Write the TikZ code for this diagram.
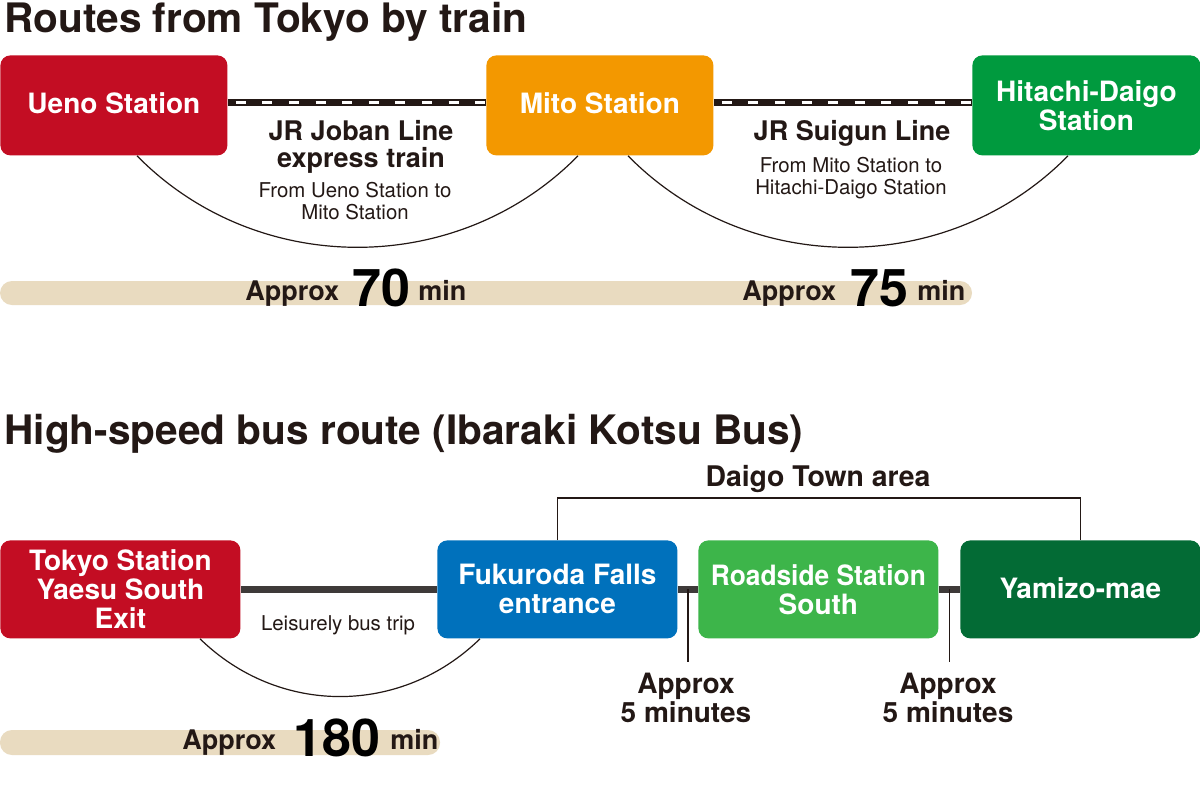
\documentclass[tikz,border=0pt]{standalone}
\usepackage{fontspec}
\setmainfont{TeX Gyre Heros}
\usetikzlibrary{calc}
\definecolor{ink}{HTML}{231815}
\definecolor{cred}{HTML}{C30D23}
\definecolor{corange}{HTML}{F39800}
\definecolor{cgreen}{HTML}{009A3E}
\definecolor{cblue}{HTML}{0071BC}
\definecolor{clight}{HTML}{3DB54A}
\definecolor{cdark}{HTML}{036B35}
\definecolor{cbeige}{HTML}{E9DBC0}
\definecolor{cbus}{HTML}{3E3A39}
\tikzset{
  stationbox/.style={fill=#1, rounded corners=5pt, minimum height=50pt, minimum width=113.5pt,
    text=white, align=center, inner sep=0pt, anchor=north west,
    font=\bfseries\fontsize{14}{14.5}\selectfont},
  busbox/.style={stationbox=#1, minimum width=120pt, minimum height=49pt},
  rail/.style={draw=ink, line width=3.75pt,
    postaction={draw=white, line width=1.5pt, dash pattern=on 5pt off 8.3pt, dash phase=-4pt}},
  busline/.style={draw=cbus, line width=3.5pt},
  arcline/.style={draw=ink, line width=0.6pt},
  titletext/.style={anchor=base west, inner sep=0pt, text=ink, font=\bfseries\fontsize{20.3}{22}\selectfont},
  linelabel/.style={inner sep=0pt, align=center, text=ink, font=\bfseries\fontsize{13.5}{13.2}\selectfont},
  smalltext/.style={inner sep=0pt, align=center, text=ink, font=\fontsize{10.2}{11}\selectfont},
  approxtext/.style={anchor=base west, inner sep=0pt, text=ink, font=\bfseries\fontsize{13.5}{14}\selectfont},
  bignum/.style={anchor=base west, inner sep=0pt, text=black, font=\bfseries\fontsize{26}{28}\selectfont},
  minutestext/.style={inner sep=0pt, align=center, text=ink, font=\bfseries\fontsize{14}{14.5}\selectfont},
  durbar/.style={fill=cbeige, rounded corners=6pt},
  tick/.style={draw=ink, line width=0.6pt}
}
\begin{document}
\begin{tikzpicture}[x=0.5pt,y=-0.5pt]
\useasboundingbox[fill=white] (0,0) rectangle (1200,800);

% ---------- Train routes ----------
\node[titletext] (t1) at (4,32) {Routes from Tokyo by train};

\node[stationbox=cred] (ueno) at (0,55) {\raisebox{2pt}{Ueno Station}};
\node[stationbox=corange] (mito) at (486,55) {\raisebox{2pt}{Mito Station}};
\node[stationbox=cgreen, minimum width=114pt] (hd) at (972,55) {Hitachi-Daigo\\Station};

\draw[rail] ([yshift=1.5pt]ueno.east) -- ([yshift=1.5pt]mito.west);
\draw[rail] ([yshift=1.5pt]mito.east) -- ([yshift=1.5pt]hd.west);

\coordinate (a1s) at ($(ueno.south west)+(137,0)$);
\coordinate (a1e) at ($(mito.south west)+(92,0)$);
\coordinate (a2s) at ($(mito.south west)+(142,0)$);
\coordinate (a2e) at ($(hd.south west)+(96,0)$);
\draw[arcline] (a1s) .. controls +(120,122) and +(-120,122) .. (a1e);
\draw[arcline] (a2s) .. controls +(120,122) and +(-120,122) .. (a2e);

\node[linelabel] (joban) at (361,147) {JR Joban Line\\express train};
\node[smalltext] (jobanft) at (355,201) {From Ueno Station to\\Mito Station};
\node[linelabel] (suigun) at (852,133) {JR Suigun Line};
\node[smalltext] (suigunft) at (851,178) {From Mito Station to\\Hitachi-Daigo Station};

\fill[durbar] (0,281) rectangle (972,305);
\node[approxtext] (ap1) at (245,300) {Approx};
\node[bignum] (n70) at (352,306) {70};
\node[approxtext] (m1) at (418,300) {min};
\node[approxtext] (ap2) at (742,300) {Approx};
\node[bignum] (n75) at (850,306) {75};
\node[approxtext] (m2) at (917,300) {min};

% ---------- Bus route ----------
\node[titletext] (t2) at (4,444) {High-speed bus route (Ibaraki Kotsu Bus)};

\node[busbox=cred] (tokyo) at (0,540) {Tokyo Station\\Yaesu South\\Exit};
\node[busbox=cblue] (fuku) at (437,540) {Fukuroda Falls\\entrance};
\node[busbox=clight] (road) at (698,540) {\scalebox{0.94}[1]{Roadside Station}\\South};
\node[busbox=cdark] (yami) at (960,540) {\raisebox{1.5pt}{Yamizo-mae}};

\draw[busline] (tokyo.east) -- (fuku.west);
\draw[busline] (fuku.east) -- (road.west);
\draw[busline] (road.east) -- (yami.west);

\coordinate (b1s) at ($(tokyo.south west)+(200,0)$);
\coordinate (b1e) at ($(fuku.south west)+(43,0)$);
\draw[arcline] (b1s) .. controls +(79,77) and +(-79,77) .. (b1e);
\node[smalltext] (leis) at (338,625) {Leisurely bus trip};

\draw[arcline] (fuku.north) -- ++(0,-42) -| (yami.north);
\node[linelabel, font=\bfseries\fontsize{14.2}{14}\selectfont] (daigo) at (818,479) {Daigo Town area};

\coordinate (k1) at ($(fuku.east)!0.5!(road.west)$);
\coordinate (k2) at ($(road.east)!0.5!(yami.west)$);
\draw[tick] (k1) -- ++(0,73) coordinate (k1e);
\draw[tick] (k2) -- ++(0,73) coordinate (k2e);
\node[minutestext] (min1) at (686,698) {Approx\\5 minutes};
\node[minutestext] (min2) at (948,698) {Approx\\5 minutes};

\fill[durbar] (0,730) rectangle (440,755);
\node[approxtext] (ap3) at (182,749) {Approx};
\node[bignum] (n180) at (293,756) {180};
\node[approxtext] (m3) at (390,749) {min};
\end{tikzpicture}
\end{document}
